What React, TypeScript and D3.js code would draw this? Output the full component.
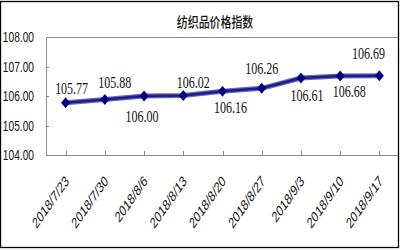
import React from "react";
import * as d3 from "d3";

const title = "纺织品价格指数";
const categories = [
  "2018/7/23", "2018/7/30", "2018/8/6", "2018/8/13", "2018/8/20",
  "2018/8/27", "2018/9/3", "2018/9/10", "2018/9/17",
];
const values = [105.77, 105.88, 106.0, 106.02, 106.16, 106.26, 106.61, 106.68, 106.69];
const yTicks = [104, 105, 106, 107, 108];
// label placement offsets (relative to the point), styling only
const labelDx = [6, 10, -2, 10, 8, 0, 6, 9, -11];
const labelDy = [-14, -17, 20, -13, 16, -20, 17, 15, -22];

const W = 400, H = 250;
const plot = { left: 46, right: 399, top: 37, bottom: 155 };
const SX = 0.7;

export default function App() {
  const x = d3.scalePoint<string>().domain(categories).range([plot.left, plot.right]).padding(0.5);
  const y = d3.scaleLinear().domain([104, 108]).range([plot.bottom, plot.top]);
  const line = d3.line<number>().x((_, i) => x(categories[i])!).y((d) => y(d));
  const path = line(values) || "";
  const gray = "#8c8c8c";
  return (
    <svg width={W} height={H} style={{ position: "absolute", left: 0, top: 0, background: "#fff" }}>
      <rect x={0.5} y={1.5} width={398} height={246} fill="#fff" stroke="#000" strokeWidth={1.3} />
      <g transform={`translate(215,21) scale(0.78,1)`}>
        <text textAnchor="middle" dominantBaseline="central" fontFamily="'Noto Sans CJK SC'" fontSize={14} fontWeight={500} fill="#111">
          {title}
        </text>
      </g>
      {/* plot frame */}
      <line x1={plot.left} x2={398} y1={plot.top + 0.5} y2={plot.top + 0.5} stroke={gray} />
      <line x1={plot.left + 0.5} x2={plot.left + 0.5} y1={plot.top} y2={plot.bottom} stroke={gray} />
      <line x1={plot.left} x2={398} y1={plot.bottom + 0.5} y2={plot.bottom + 0.5} stroke={gray} />
      {yTicks.map((t) => (
        <g key={t}>
          <line x1={plot.left} x2={plot.left + 3} y1={Math.round(y(t)) + 0.5} y2={Math.round(y(t)) + 0.5} stroke={gray} />
          <g transform={`translate(34,${y(t)}) scale(0.68,1)`}>
            <text textAnchor="end" dominantBaseline="central" fontFamily="'Liberation Sans', Arial" fontSize={15} fill="#111">
              {t.toFixed(2)}
            </text>
          </g>
        </g>
      ))}
      {categories.map((c) => (
        <g key={c}>
          <line x1={Math.round(x(c)!) + 0.5} x2={Math.round(x(c)!) + 0.5} y1={plot.bottom} y2={plot.bottom - 4} stroke={gray} />
          <g transform={`translate(${x(c)! + 4},182) scale(${SX},1) rotate(-45)`}>
            <text textAnchor="end" fontFamily="'Liberation Sans', Arial" fontSize={15} fill="#111">
              {c}
            </text>
          </g>
        </g>
      ))}
      <path d={path} fill="none" stroke="#4b4bab" strokeWidth={5} strokeLinejoin="round" opacity={0.85} />
      <path d={path} fill="none" stroke="#1c1c8a" strokeWidth={2.5} strokeLinejoin="round" />
      {values.map((v, i) => {
        const px = x(categories[i])!, py = y(v);
        return (
          <path key={i} d={`M${px},${py - 5.5}L${px + 4.5},${py}L${px},${py + 5.5}L${px - 4.5},${py}Z`} fill="#000080" />
        );
      })}
      {values.map((v, i) => (
        <g key={"l" + i} transform={`translate(${x(categories[i])! + labelDx[i]},${y(v) + labelDy[i]}) scale(0.75,1)`}>
          <text textAnchor="middle" dominantBaseline="central" fontFamily="'Liberation Serif', serif" fontSize={16} fill="#111">
            {v.toFixed(2)}
          </text>
        </g>
      ))}
    </svg>
  );
}
